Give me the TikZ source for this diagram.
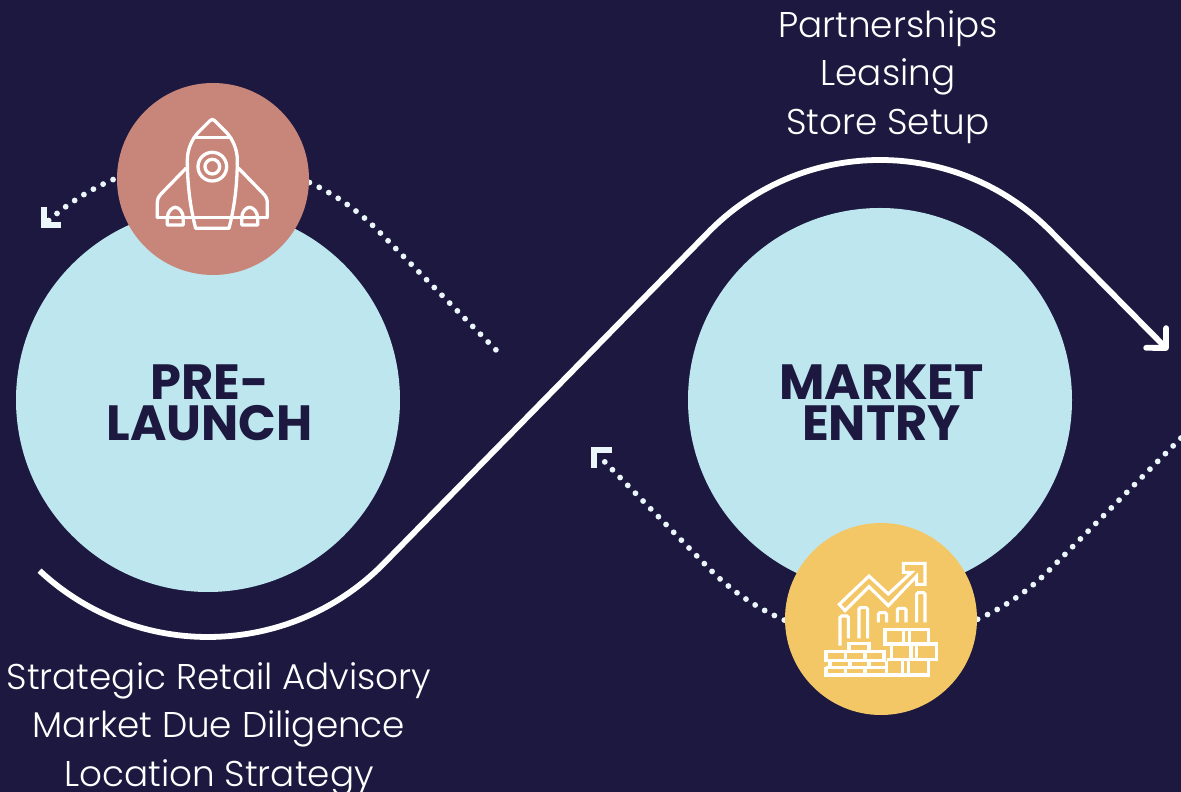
\documentclass[tikz,border=0pt]{standalone}
\usepackage{fontspec}
\setmainfont{Poppins}[UprightFont=* Light,BoldFont=* Bold]
\usetikzlibrary{arrows.meta,calc}
\definecolor{bg}{HTML}{1C1840}
\definecolor{ltblue}{HTML}{BEE6EE}
\definecolor{rose}{HTML}{C8867B}
\definecolor{gold}{HTML}{F4C766}
\definecolor{dotc}{HTML}{EAF6FA}
\tikzset{
  x=1pt,y=1pt,
  bigdisc/.style={circle,fill=ltblue,minimum size=384pt,inner sep=0pt,outer sep=0pt},
  title/.style={text=bg,align=center,font=\fontsize{49.5}{41}\selectfont\bfseries},
  smalldisc/.style={circle,minimum size=192pt,inner sep=0pt,outer sep=0pt},
  mainline/.style={draw=white,line width=5.8pt,-{Straight Barb[length=14pt,width=28pt,line width=5.8pt,round=false]}},
  dotline/.style={draw=dotc,line width=5.8pt,line cap=round,dash pattern=on 0pt off 10.95pt},
  dothead/.style={draw=dotc,line width=6pt,line join=miter},
  listtext/.style={text=white,align=center,font=\fontsize{35.8}{48.5}\selectfont},
  icon/.style={draw=white,line width=3.3pt,line join=round,line cap=round},
  iconb/.style={draw=white,line width=3.1pt,line join=miter},
  iconbar/.style={draw=white,line width=3.1pt,rounded corners=1.5pt},
}
\begin{document}
\begin{tikzpicture}
\useasboundingbox (0,0) rectangle (1181,792);
\fill[bg] (0,0) rectangle (1181,792);
\coordinate (prec) at (208,392);
\coordinate (entc) at (880,392);
\coordinate (mainc) at (208,402);
% main line
\coordinate (m0) at ($(mainc)+(227:247pt)$);
\coordinate (m4) at (1168,442);
\draw[mainline] (m0) arc[start angle=227,end angle=315,radius=247pt]
   -- ($(entc)+(135:240pt)$) arc[start angle=135,end angle=45,radius=240pt] -- (m4);
% dotted
\coordinate (d1s) at ($(prec)+(113.3:240pt)$);
\draw[dotline] (d1s) arc[start angle=113.3,end angle=132.5,radius=240pt];
\coordinate (d2s) at ($(prec)+(65:240pt)$);
\coordinate (d2e) at (500,438);
\draw[dotline] (d2s) arc[start angle=65,end angle=45,radius=240pt] -- (d2e);
\coordinate (d3s) at ($(entc)+(-66:240pt)$);
\coordinate (d3e) at (1185,358);
\draw[dotline] (d3s) arc[start angle=-66,end angle=-45,radius=240pt] -- (d3e);
\coordinate (d4s) at ($(entc)+(-113.5:240pt)$);
\coordinate (d4e) at (600,335);
\draw[dotline] (d4s) arc[start angle=-113.5,end angle=-135,radius=240pt] -- (d4e);
% arrow heads of dotted lines
\coordinate (h1) at (44,567);
\coordinate (h4) at (594,342);
\draw[dothead] (44,585) -- (h1) -- (61,567);
\draw[dothead] (612,342) -- (h4) -- (594,324);
% discs
\node[bigdisc] (pre) at (prec) {};
\node[bigdisc] (ent) at (entc) {};
\node[title] (prelabel) at (209.5,389.5) {PRE-\\LAUNCH};
\node[title] (entlabel) at (881.5,389.5) {MARKET\\ENTRY};
\node[smalldisc,fill=rose] (rocket) at (213,613) {};
\node[smalldisc,fill=gold] (chart) at (881,173) {};
% labels
\node[listtext] (top) at (888,715) {Partnerships\\Leasing\\Store Setup};
\node[listtext] (bot) at (219,63) {Strategic Retail Advisory\\Market Due Diligence\\Location Strategy};
% rocket icon
\begin{scope}[shift={(130,692)},x=0.3333pt,y=-0.3333pt]
 \draw[icon] (197,385) .. controls (180,320) and (172,250) .. (172,180)
   .. controls (172,150) and (185,118) .. (205,97) -- (240,62) .. controls (245,57) and (249,57) .. (254,62)
   -- (289,97) .. controls (309,118) and (322,150) .. (322,180)
   .. controls (322,250) and (314,320) .. (297,385) -- cycle;
 \draw[icon] (192,113) -- (302,113);
 \draw[icon] (82,353) -- (412,353);
 \draw[icon] (168,205) -- (95,280) .. controls (85,290) and (82,298) .. (82,310) -- (82,353);
 \draw[icon] (326,205) -- (399,280) .. controls (409,290) and (412,298) .. (412,310) -- (412,353);
 \draw[icon] (112,375) -- (160,375) -- (160,355) .. controls (160,335) and (146,322) .. (136,322) .. controls (126,322) and (112,335) .. (112,355) -- cycle;
 \draw[icon] (335,375) -- (383,375) -- (383,355) .. controls (383,335) and (369,322) .. (359,322) .. controls (349,322) and (335,335) .. (335,355) -- cycle;
 \draw[icon] (247,200) circle[radius=43];
 \draw[icon] (247,200) circle[radius=22];
\end{scope}
% chart icon
\begin{scope}[shift={(800,252)},x=0.3333pt,y=-0.3333pt]
 \draw[iconb] (118,193) -- (207,108) -- (265,162) -- (335,97) -- (310,97) -- (310,70) -- (375,70) -- (375,133) -- (350,133) -- (350,108) -- (265,197) -- (207,140) -- (135,212) -- cycle;
 \draw[iconbar] (120,317) -- (120,228) -- (145,228) -- (145,295);
 \draw[iconbar] (177,295) -- (177,203) -- (203,203) -- (203,295);
 \draw[iconbar] (235,247) -- (235,218) -- (260,218) -- (260,247);
 \draw[iconbar] (292,247) -- (292,205) -- (318,205) -- (318,247);
 \draw[iconbar] (350,247) -- (350,158) -- (375,158) -- (375,247);
 \draw[iconb] (255,268) rectangle (385,312);
 \draw[iconb] (310,268) -- (310,312) (328,268) -- (328,312);
 \draw[iconb] (350,312) rectangle (410,358);
 \draw[iconb] (275,312) -- (275,358) (333,312) -- (333,358);
 \draw[iconb] (385,358) -- (385,405) -- (78,405) -- (78,382);
 \draw[iconb] (260,358) -- (350,358);
 \draw[iconb] (308,358) -- (308,405) (325,358) -- (325,405);
 \draw[iconb] (147,335) -- (147,310) -- (207,310) -- (207,335);
 \draw[iconb] (78,335) rectangle (252,362);
 \draw[iconb] (137,335) -- (137,362) (195,335) -- (195,362);
 \draw[iconb] (90,362) -- (90,382) (150,362) -- (150,382) (207,362) -- (207,382) (260,362) -- (260,405);
 \draw[iconb] (78,382) -- (260,382);
 \draw[iconb] (137,382) -- (137,405) (195,382) -- (195,405);
\end{scope}
\end{tikzpicture}
\end{document}
